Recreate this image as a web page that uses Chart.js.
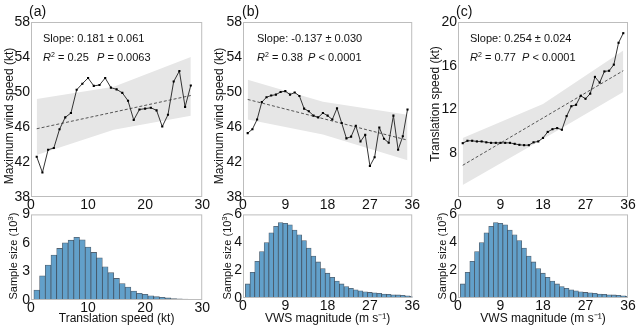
<!DOCTYPE html>
<html>
<head>
<meta charset="utf-8">
<script src="https://cdn.jsdelivr.net/npm/chart.js@4.4.1/dist/chart.umd.min.js"></script>
<style>
  body { margin: 0; background: #fff; }
  #wrap { position: relative; width: 638px; height: 329px; overflow: hidden; font-family: "Liberation Sans", Arial, sans-serif; }
  #wrap canvas { position: absolute; }
  .lbl { position: absolute; font-size: 14px; color: #111; line-height: 1; }
  .ann { position: absolute; font-size: 11px; color: #111; line-height: 1; white-space: nowrap; }
  .ann i { font-style: italic; }
  .ann sup { font-size: 7px; vertical-align: 4px; line-height: 0; }
  .ytl { position: absolute; color: #111; line-height: 1; white-space: nowrap; transform: translate(-50%, -50%) rotate(-90deg); }
  .ytl sup { font-size: 8px; vertical-align: 4px; line-height: 0; }
</style>
</head>
<body>
<div id="wrap">
  <canvas id="topA" width="210" height="212" style="left:0;top:0"></canvas>
  <canvas id="topB" width="210" height="212" style="left:210px;top:0"></canvas>
  <canvas id="topC" width="218" height="212" style="left:420px;top:0"></canvas>
  <canvas id="botA" width="210" height="124" style="left:0;top:205px"></canvas>
  <canvas id="botB" width="210" height="124" style="left:210px;top:205px"></canvas>
  <canvas id="botC" width="218" height="124" style="left:420px;top:205px"></canvas>

  <div class="lbl" style="left:29px;top:4px">(a)</div>
  <div class="lbl" style="left:242px;top:4px">(b)</div>
  <div class="lbl" style="left:456px;top:4px">(c)</div>

  <div class="ytl" style="left:8.5px;top:116px;font-size:12px">Maximum wind speed (kt)</div>
  <div class="ytl" style="left:218.5px;top:116px;font-size:12px">Maximum wind speed (kt)</div>
  <div class="ytl" style="left:434.5px;top:104px;font-size:12px">Translation speed (kt)</div>
  <div class="ytl" style="left:13px;top:256px;font-size:11px">Sample size (10<sup>3</sup>)</div>
  <div class="ytl" style="left:227px;top:256px;font-size:11px">Sample size (10<sup>3</sup>)</div>
  <div class="ytl" style="left:442px;top:256px;font-size:11px">Sample size (10<sup>3</sup>)</div>

  <div class="ann" style="left:43px;top:33px">Slope: 0.181 ± 0.061</div>
  <div class="ann" style="left:43px;top:52px"><i>R</i><sup>2</sup> = 0.25</div>
  <div class="ann" style="left:97px;top:52px"><i>P</i> = 0.0063</div>

  <div class="ann" style="left:257px;top:33px">Slope: -0.137 ± 0.030</div>
  <div class="ann" style="left:257px;top:52px"><i>R</i><sup>2</sup> = 0.38</div>
  <div class="ann" style="left:308px;top:52px"><i>P</i> &lt; 0.0001</div>

  <div class="ann" style="left:470px;top:33px">Slope: 0.254 ± 0.024</div>
  <div class="ann" style="left:470px;top:52px"><i>R</i><sup>2</sup> = 0.77</div>
  <div class="ann" style="left:522px;top:52px"><i>P</i> &lt; 0.0001</div>
</div>
<script>
// (a) wind speed vs translation speed
const transX = [1, 2, 3, 4, 5, 6, 7, 8, 9, 10, 11, 12, 13, 14, 15, 16, 17, 18, 19, 20, 21, 22, 23, 24, 25, 26, 27, 28];
const windByTrans = [42.6, 40.8, 43.4, 43.6, 45.75, 47.1, 47.6, 50.25, 50.95, 51.6, 50.7, 50.8, 51.6, 50.5, 50.3, 49.9, 49.0, 46.8, 48.0, 48.1, 48.2, 47.9, 46.05, 47.4, 51.2, 52.4, 48.3, 50.75];
const regA_X = [1, 28], regA_Y = [45.8, 49.6];
const bandA_X = [1, 14.5, 28], bandA_Lo = [42.8, 45.7, 47.3], bandA_Hi = [49.2, 50.6, 54.0];

// (b) wind speed vs VWS
const vwsX = [1, 2, 3, 4, 5, 6, 7, 8, 9, 10, 11, 12, 13, 14, 15, 16, 17, 18, 19, 20, 21, 22, 23, 24, 25, 26, 27, 28, 29, 30, 31, 32, 33, 34, 35];
const windByVws = [45.3, 45.75, 46.85, 48.85, 49.4, 49.6, 49.7, 50.0, 50.1, 49.7, 49.95, 49.55, 48.1, 47.8, 47.3, 47.1, 47.6, 47.3, 46.85, 48.15, 46.45, 44.7, 44.9, 46.15, 44.35, 45.1, 41.55, 42.55, 45.95, 44.65, 44.2, 47.3, 43.4, 44.95, 48.0];
const regB_X = [1, 35], regB_Y = [49.15, 44.5];
const bandB_X = [1, 17, 35], bandB_Lo = [46.85, 45.15, 42.2], bandB_Hi = [51.4, 48.9, 47.4];

// (c) translation speed vs VWS
const transByVws = [8.92, 9.14, 9.14, 9.08, 9.08, 9.0, 8.95, 8.95, 8.95, 8.95, 8.95, 8.86, 8.77, 8.74, 8.74, 9.0, 9.08, 9.4, 9.95, 10.2, 10.3, 10.15, 11.4, 12.3, 12.43, 13.26, 12.98, 13.45, 14.98, 14.46, 15.48, 15.54, 16.1, 18.1, 18.98];
const regC_X = [1, 35], regC_Y = [6.9, 15.55];
const bandC_X = [1, 18, 35], bandC_Lo = [5.1, 9.3, 13.6], bandC_Hi = [9.4, 12.5, 17.4];

// histograms (10^3)
const histTransX = [1, 2, 3, 4, 5, 6, 7, 8, 9, 10, 11, 12, 13, 14, 15, 16, 17, 18, 19, 20, 21, 22, 23, 24, 25, 26, 27, 28, 29];
const histTrans = [1.05, 2.55, 3.67, 4.72, 5.42, 6.01, 6.29, 6.6, 6.33, 5.56, 5.0, 4.44, 3.5, 2.87, 2.27, 1.72, 1.36, 0.94, 0.7, 0.6, 0.45, 0.35, 0.28, 0.22, 0.16, 0.12, 0.1, 0.08, 0.07];
const histVwsX = [1, 2, 3, 4, 5, 6, 7, 8, 9, 10, 11, 12, 13, 14, 15, 16, 17, 18, 19, 20, 21, 22, 23, 24, 25, 26, 27, 28, 29, 30, 31, 32, 33, 34, 35, 36];
const histVws = [1.01, 1.84, 2.64, 3.34, 3.98, 4.68, 5.15, 5.41, 5.36, 5.25, 4.87, 4.54, 4.12, 3.58, 3.01, 2.59, 2.12, 1.78, 1.48, 1.22, 1.01, 0.82, 0.7, 0.59, 0.52, 0.45, 0.4, 0.37, 0.33, 0.28, 0.26, 0.23, 0.22, 0.2, 0.16, 0.12];

const pts = (xs, ys) => xs.map((x, i) => ({ x, y: ys[i] }));
const tickFont = { family: 'Liberation Sans', size: 14 };

const frame = {
  id: 'frame',
  afterDraw(c) {
    const a = c.chartArea, ctx = c.ctx;
    ctx.save();
    ctx.strokeStyle = '#bdbdbd';
    ctx.lineWidth = 1;
    ctx.strokeRect(a.left + 0.5, a.top + 0.5, a.right - a.left - 1, a.bottom - a.top - 1);
    ctx.restore();
  }
};

function axes(o) {
  return {
    x: {
      type: 'linear', min: o.xMin, max: o.xMax, offset: false,
      ticks: { stepSize: o.xStep, font: tickFont, color: '#111', padding: 0, maxRotation: 0 },
      grid: { display: false, drawTicks: false }, border: { display: false },
      title: o.xTitle ? { display: true, text: o.xTitle, color: '#111', font: { family: 'Liberation Sans', size: 12 }, padding: { top: 0, bottom: 3 } } : { display: false },
      afterFit: s => { s.height = o.xH; }
    },
    y: {
      min: o.yMin, max: o.yMax,
      ticks: { stepSize: o.yStep, font: tickFont, color: '#111', padding: 1, callback: o.yCb || (v => v) },
      grid: { display: false, drawTicks: false }, border: { display: false },
      afterFit: s => { s.width = o.yW; }
    }
  };
}

function topChart(id, o) {
  return new Chart(document.getElementById(id), {
    type: 'line',
    data: {
      datasets: [
        { data: pts(o.x, o.y), borderColor: '#333', borderWidth: 1, pointStyle: 'rect', pointRadius: 1.5, pointBackgroundColor: '#000', pointBorderWidth: 0, tension: 0, order: 0 },
        { data: pts(o.regX, o.regY), borderColor: '#555', borderWidth: 1, borderDash: [3, 2], pointRadius: 0, order: 1 },
        { data: pts(o.bandX, o.bandLo), borderColor: 'rgba(0,0,0,0)', borderWidth: 0, pointRadius: 0, fill: false, order: 2 },
        { data: pts(o.bandX, o.bandHi), borderColor: 'rgba(0,0,0,0)', borderWidth: 0, pointRadius: 0, fill: '-1', backgroundColor: '#e6e6e6', order: 3 }
      ]
    },
    options: {
      responsive: false, animation: false, devicePixelRatio: 1,
      layout: { padding: { top: 22, right: o.padR, left: 0, bottom: 0 } },
      plugins: { legend: { display: false }, tooltip: { enabled: false } },
      scales: axes(o)
    },
    plugins: [frame]
  });
}

function histChart(id, o) {
  return new Chart(document.getElementById(id), {
    type: 'bar',
    data: {
      datasets: [{ data: pts(o.x, o.y), backgroundColor: '#62a0ca', borderColor: 'rgba(25,45,65,0.75)', borderWidth: 0.8, barPercentage: 1, categoryPercentage: 1 }]
    },
    options: {
      responsive: false, animation: false, devicePixelRatio: 1,
      layout: { padding: { top: 8, right: o.padR, left: 0, bottom: 0 } },
      plugins: { legend: { display: false }, tooltip: { enabled: false } },
      scales: axes(o)
    },
    plugins: [frame]
  });
}

topChart('topA', { x: transX, y: windByTrans, regX: regA_X, regY: regA_Y, bandX: bandA_X, bandLo: bandA_Lo, bandHi: bandA_Hi,
  xMin: 0, xMax: 30, xStep: 10, xH: 15, yMin: 38, yMax: 58, yStep: 4, yW: 31, padR: 7 });
topChart('topB', { x: vwsX, y: windByVws, regX: regB_X, regY: regB_Y, bandX: bandB_X, bandLo: bandB_Lo, bandHi: bandB_Hi,
  xMin: 0, xMax: 36, xStep: 9, xH: 15, yMin: 38, yMax: 58, yStep: 4, yW: 33, padR: 4 });
topChart('topC', { x: vwsX, y: transByVws, regX: regC_X, regY: regC_Y, bandX: bandC_X, bandLo: bandC_Lo, bandHi: bandC_Hi,
  xMin: 0, xMax: 36, xStep: 9, xH: 15, yMin: 4, yMax: 20, yStep: 4, yW: 38, padR: 10,
  yCb: v => (v === 4 ? '' : v) });

histChart('botA', { x: histTransX, y: histTrans, xMin: 0, xMax: 30, xStep: 10, xH: 29, yMin: 0, yMax: 9, yStep: 3, yW: 31, padR: 7,
  xTitle: 'Translation speed (kt)' });
histChart('botB', { x: histVwsX, y: histVws, xMin: 0, xMax: 36, xStep: 9, xH: 31, yMin: 0, yMax: 6, yStep: 2, yW: 33, padR: 4,
  xTitle: 'VWS magnitude (m s⁻¹)' });
histChart('botC', { x: histVwsX, y: histVws, xMin: 0, xMax: 36, xStep: 9, xH: 31, yMin: 0, yMax: 6, yStep: 2, yW: 38, padR: 10,
  xTitle: 'VWS magnitude (m s⁻¹)' });
</script>
</body>
</html>
